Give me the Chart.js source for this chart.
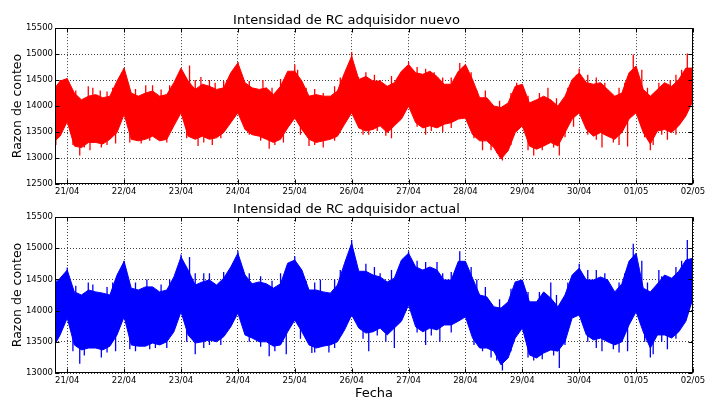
<!DOCTYPE html>
<html>
<head>
<meta charset="utf-8">
<script src="https://cdn.jsdelivr.net/npm/chart.js@4.4.0/dist/chart.umd.min.js"></script>
<style>
  html, body { margin: 0; padding: 0; background: #fff; overflow: hidden; }
  .panel { position: absolute; left: 0; width: 706px; }
  #panelTop { top: 0; height: 198px; }
  #panelBottom { top: 198px; height: 203px; }
</style>
</head>
<body>
<div class="panel" id="panelTop"><canvas id="nuevo"></canvas></div>
<div class="panel" id="panelBottom"><canvas id="actual"></canvas></div>
<script>
// day ticks (x value = days since 21/04 00:00)
const dayLabels = ['21/04', '22/04', '23/04', '24/04', '25/04', '26/04',
                   '27/04', '28/04', '29/04', '30/04', '01/05', '02/05'];

// count-rate envelope, one sample every 3 h starting 20/04 18:00
const sampleStartHour = -6;
const sampleStepHours = 3;

const nuevoHigh = [
  14300, 14480, 14530,
  14250, 14120, 14190, 14220, 14160, 14190, 14480, 14730,
  14250, 14190, 14250, 14290, 14190, 14220, 14450, 14730,
  14480, 14320, 14420, 14380, 14320, 14350, 14640, 14830,
  14450, 14350, 14320, 14350, 14220, 14380, 14670, 14670,
  14480, 14190, 14220, 14190, 14190, 14290, 14640, 14960,
  14510, 14570, 14480, 14480, 14380, 14450, 14670, 14800,
  14640, 14610, 14670, 14570, 14420, 14420, 14670, 14800,
  14510, 14160, 14160, 14000, 13970, 14060, 14380, 14420,
  14060, 14120, 14190, 14120, 14000, 14190, 14510, 14640,
  14450, 14420, 14450, 14320, 14190, 14250, 14640, 14770,
  14320, 14190, 14320, 14450, 14380, 14510, 14730, 14730
];
const nuevoLow = [
  13300, 13420, 13700,
  13230, 13200, 13300, 13300, 13270, 13360, 13490, 13840,
  13360, 13330, 13360, 13420, 13330, 13360, 13620, 13870,
  13420, 13360, 13420, 13360, 13390, 13490, 13680, 13870,
  13550, 13450, 13420, 13360, 13300, 13360, 13580, 13770,
  13550, 13360, 13300, 13330, 13360, 13420, 13650, 13870,
  13580, 13520, 13550, 13620, 13490, 13620, 13750, 14000,
  13680, 13580, 13620, 13580, 13650, 13680, 13750, 13770,
  13450, 13330, 13330, 13200, 12980, 13140, 13490, 13620,
  13230, 13170, 13230, 13300, 13230, 13490, 13750, 13870,
  13550, 13420, 13490, 13420, 13360, 13490, 13750, 13870,
  13490, 13270, 13520, 13550, 13490, 13620, 13810, 14100
];
// short bursts outside the envelope: time in days, extreme value
const nuevoSpikeDays = [
  -0.12, 0.0, 0.37, 0.58, 1.0, 1.38, 1.5, 2.15, 2.35, 2.6, 3.0, 3.44, 4.0, 4.05,
  4.5, 4.9, 5.0, 5.12, 5.5, 6.0, 6.45, 6.9, 7.2, 7.9, 8.45, 8.95, 9.0, 9.3, 9.95,
  10.1, 10.6, 10.9,
  0.15, 0.45, 0.7, 0.8, 1.2, 1.65, 1.8, 2.25, 2.5, 2.75, 3.2, 3.6, 3.75,
  4.2, 4.35, 4.7, 4.8, 5.25, 5.4, 5.7, 6.15, 6.3, 6.6, 6.75, 7.1, 7.35, 7.6, 7.8,
  8.1, 8.3, 8.6, 8.8, 9.15, 9.45, 9.7, 9.8, 10.2, 10.4, 10.7, 10.8,
  -0.2, 0.22, 0.4, 0.6, 0.85, 1.3, 1.6, 2.3, 2.55, 3.55, 3.8, 4.25, 4.5, 5.3, 5.7,
  6.3, 6.6, 7.3, 7.65, 8.2, 8.65, 8.9, 9.4, 9.85, 10.25, 10.55,
  0.1, 0.3, 0.7, 1.1, 1.45, 1.75, 2.1, 2.4, 2.7, 3.2, 3.4, 3.65, 4.1, 4.35, 4.7,
  5.2, 5.45, 5.6, 6.15, 6.4, 6.75, 7.15, 7.45, 7.55, 7.8, 8.1, 8.35, 8.55, 8.75,
  9.15, 9.3, 9.6, 9.7, 10.15, 10.3, 10.45, 10.7
];
const nuevoSpikeValues = [
  14500, 14530, 14380, 14300, 14730, 14400, 14400, 14780, 14560, 14450, 14850, 14500, 14800, 14700,
  14250, 14650, 15040, 14560, 14500, 14850, 14650, 14830, 14300, 14450, 14350, 14600, 14720, 14550, 14990,
  14700, 14500, 15010,
  14300, 14350, 14280, 14350, 14330, 14320, 14400, 14500, 14500, 14480, 14480, 14350, 14520,
  14350, 14330, 14380, 14550, 14650, 14600, 14580, 14750, 14720, 14550, 14550, 14650, 14300, 14100, 14250,
  14200, 14250, 14150, 14350, 14600, 14450, 14350, 14450, 14350, 14450, 14600, 14700,
  13250, 13050, 13150, 13200, 13280, 13280, 13350, 13230, 13250, 13180, 13300, 13230, 13200, 13450, 13380,
  13450, 13500, 13150, 12950, 13050, 13050, 13600, 13200, 13220, 13150, 13350,
  13250, 13200, 13250, 13300, 13330, 13300, 13380, 13300, 13380, 13450, 13330, 13250, 13450, 13250, 13330,
  13450, 13520, 13430, 13600, 13520, 13580, 13380, 13150, 13100, 13250, 13150, 13150, 13200, 13400,
  13450, 13350, 13300, 13250, 13400, 13250, 13450, 13450
];

const actualHigh = [
  14400, 14520, 14650,
  14300, 14250, 14330, 14300, 14280, 14250, 14570, 14790,
  14360, 14330, 14380, 14380, 14300, 14330, 14540, 14860,
  14650, 14410, 14460, 14490, 14410, 14520, 14700, 14920,
  14570, 14430, 14460, 14430, 14360, 14430, 14760, 14810,
  14650, 14330, 14330, 14300, 14280, 14410, 14760, 15080,
  14630, 14630, 14570, 14540, 14460, 14520, 14810, 14920,
  14700, 14650, 14700, 14650, 14490, 14490, 14790, 14790,
  14520, 14250, 14220, 14060, 14040, 14140, 14460, 14490,
  14140, 14140, 14300, 14200, 14060, 14250, 14570, 14680,
  14490, 14490, 14540, 14490, 14300, 14430, 14790, 14920,
  14360, 14300, 14430, 14570, 14520, 14630, 14810, 14840
];
const actualLow = [
  13400, 13610, 13880,
  13450, 13370, 13400, 13400, 13370, 13430, 13610, 13900,
  13450, 13430, 13430, 13480, 13450, 13500, 13660, 13980,
  13610, 13480, 13500, 13530, 13500, 13580, 13740, 13960,
  13610, 13560, 13500, 13500, 13430, 13450, 13660, 13850,
  13660, 13450, 13400, 13430, 13450, 13500, 13690, 13930,
  13720, 13640, 13660, 13720, 13610, 13720, 13830, 14090,
  13740, 13660, 13720, 13690, 13770, 13770, 13830, 13900,
  13560, 13400, 13400, 13350, 13130, 13240, 13560, 13720,
  13290, 13240, 13320, 13370, 13350, 13500, 13880, 13930,
  13610, 13530, 13560, 13500, 13450, 13500, 13770, 13980,
  13660, 13400, 13610, 13610, 13560, 13660, 13830, 14200
];
const actualSpikeDays = [
  -0.2, 0.0, 0.37, 1.0, 1.4, 2.0, 2.15, 2.4, 3.0, 3.4, 4.0, 4.45, 4.9, 5.0, 5.5,
  6.0, 6.5, 6.9, 7.2, 7.95, 8.5, 9.0, 9.3, 9.95, 10.1, 10.4, 10.9,
  0.15, 0.45, 0.7, 0.8, 1.2, 1.65, 1.8, 2.25, 2.5, 2.75, 3.2, 3.6, 3.75,
  4.2, 4.35, 4.7, 4.8, 5.25, 5.4, 5.7, 6.15, 6.3, 6.6, 6.75, 7.1, 7.35, 7.6, 7.8,
  8.1, 8.3, 8.6, 8.8, 9.15, 9.45, 9.7, 9.8, 10.2, 10.45, 10.7, 10.8,
  -0.22, 0.22, 0.6, 0.85, 1.2, 1.55, 2.25, 2.5, 3.55, 3.85, 4.3, 4.6, 5.3, 5.75,
  6.3, 6.55, 7.3, 7.65, 8.2, 8.65, 9.4, 9.85, 10.25, 10.55,
  0.1, 0.3, 0.7, 1.1, 1.45, 1.75, 2.1, 2.4, 2.7, 3.2, 3.4, 3.65, 4.1, 4.35, 4.7,
  5.2, 5.45, 5.6, 6.15, 6.4, 6.75, 7.15, 7.45, 7.55, 7.8, 8.1, 8.35, 8.55, 8.75,
  9.15, 9.3, 9.6, 9.7, 10.15, 10.3, 10.45, 10.7
];
const actualSpikeValues = [
  14500, 14690, 14450, 14800, 14500, 14900, 14860, 14600, 14960, 14550, 14870, 14500, 14800, 15130, 14600,
  14950, 14780, 14950, 14500, 14480, 14450, 14750, 14650, 15070, 14800, 14650, 15130,
  14400, 14420, 14380, 14450, 14450, 14420, 14500, 14600, 14600, 14620, 14600, 14480, 14600,
  14480, 14450, 14500, 14650, 14750, 14700, 14650, 14800, 14780, 14600, 14620, 14700, 14380, 14180, 14350,
  14300, 14300, 14250, 14450, 14650, 14600, 14450, 14600, 14450, 14550, 14700, 14800,
  13380, 13150, 13250, 13350, 13350, 13400, 13300, 13450, 13270, 13300, 13320, 13330, 13350, 13400,
  13450, 13500, 13350, 13040, 13200, 13080, 13350, 13350, 13250, 13380,
  13350, 13280, 13330, 13380, 13380, 13400, 13500, 13400, 13450, 13500, 13420, 13350, 13550, 13330, 13400,
  13550, 13600, 13500, 13650, 13600, 13650, 13450, 13250, 13200, 13350, 13250, 13220, 13280, 13450,
  13500, 13400, 13380, 13330, 13500, 13300, 13500, 13550
];

const FONT = 'DejaVu Sans';

function sampleDay(i) {
  return (sampleStartHour + i * sampleStepHours) / 24;
}

function toPoints(values) {
  return values.map((v, i) => ({ x: sampleDay(i), y: v }));
}

// vertical strokes from the middle of the band out to each spike value
function spikePoints(days, values, high, low) {
  const pts = [];
  days.forEach((d, k) => {
    const i = Math.round((d * 24 - sampleStartHour) / sampleStepHours);
    const mid = (high[i] + low[i]) / 2;
    pts.push({ x: d, y: mid }, { x: d, y: values[k] }, { x: d, y: null });
  });
  return pts;
}

// spines on all four sides plus inward tick marks, like the classic style
const framePlugin = {
  id: 'frame',
  afterDraw(chart) {
    const { ctx, chartArea: a, scales: { x, y } } = chart;
    const L = Math.round(a.left) + 0.5, R = Math.round(a.right) - 0.5;
    const T = Math.round(a.top) + 0.5, B = Math.round(a.bottom) - 0.5;
    ctx.save();
    ctx.strokeStyle = '#000';
    ctx.lineWidth = 1;
    ctx.beginPath();
    x.ticks.forEach(t => {
      const px = Math.round(x.getPixelForValue(t.value)) + 0.5;
      ctx.moveTo(px, B); ctx.lineTo(px, B - 4);
      ctx.moveTo(px, T); ctx.lineTo(px, T + 4);
    });
    y.ticks.forEach(t => {
      const py = Math.round(y.getPixelForValue(t.value)) + 0.5;
      ctx.moveTo(L, py); ctx.lineTo(L + 4, py);
      ctx.moveTo(R, py); ctx.lineTo(R - 4, py);
    });
    ctx.stroke();
    ctx.strokeRect(L, T, R - L, B - T);
    ctx.restore();
  }
};

function makePanel(id, cfg) {
  const gridStyle = { color: 'rgba(0,0,0,0.75)', lineWidth: 1, drawTicks: false };
  const border = { display: false, dash: [1, 2] };
  return new Chart(document.getElementById(id), {
    type: 'line',
    data: {
      datasets: [
        { data: toPoints(cfg.high), borderColor: cfg.color, backgroundColor: cfg.color,
          borderWidth: 1, pointRadius: 0, tension: 0, fill: '+1' },
        { data: toPoints(cfg.low), borderColor: cfg.color, backgroundColor: cfg.color,
          borderWidth: 1, pointRadius: 0, tension: 0, fill: false },
        { data: spikePoints(cfg.spikeDays, cfg.spikeValues, cfg.high, cfg.low),
          borderColor: cfg.color, borderWidth: 1.3, pointRadius: 0, tension: 0,
          fill: false, spanGaps: false }
      ]
    },
    options: {
      responsive: true,
      maintainAspectRatio: false,
      animation: false,
      events: [],
      layout: { padding: { left: 0, right: 13, top: 0, bottom: 0 } },
      plugins: {
        legend: { display: false },
        tooltip: { enabled: false },
        title: {
          display: true,
          text: cfg.title,
          color: '#000',
          font: { family: FONT, size: 13, weight: 'normal' },
          padding: { top: cfg.titleTop, bottom: cfg.titleBottom }
        }
      },
      scales: {
        x: {
          type: 'linear',
          min: -0.215,
          max: 11,
          offset: false,
          z: 1,
          border,
          grid: gridStyle,
          afterBuildTicks: s => { s.ticks = dayLabels.map((_, i) => ({ value: i })); },
          afterFit: s => { s.height = cfg.xHeight; s.paddingLeft = 0; s.paddingRight = 0; },
          ticks: {
            color: '#000',
            padding: 3,
            maxRotation: 0,
            autoSkip: false,
            font: { family: FONT, size: 8.5 },
            callback: v => dayLabels[v]
          },
          title: {
            display: cfg.xTitle !== '',
            text: cfg.xTitle,
            color: '#000',
            font: { family: FONT, size: 13 },
            padding: { top: 0, bottom: 0 }
          }
        },
        y: {
          min: cfg.yMin,
          max: 15500,
          z: 1,
          border,
          grid: gridStyle,
          afterFit: s => { s.width = 55; s.paddingTop = 0; s.paddingBottom = 0; },
          ticks: {
            stepSize: 500,
            color: '#000',
            padding: 2,
            font: { family: FONT, size: 8.5 },
            callback: v => String(v)
          },
          title: {
            display: true,
            text: 'Razon de conteo',
            color: '#000',
            font: { family: FONT, size: 12.5 },
            padding: { top: 10, bottom: 0 }
          }
        }
      }
    },
    plugins: [framePlugin]
  });
}

makePanel('nuevo', {
  title: 'Intensidad de RC adquisidor nuevo',
  color: '#ff0000',
  high: nuevoHigh,
  low: nuevoLow,
  spikeDays: nuevoSpikeDays,
  spikeValues: nuevoSpikeValues,
  yMin: 12500,
  titleTop: 12.5,
  titleBottom: 0,
  xHeight: 14,
  xTitle: ''
});

makePanel('actual', {
  title: 'Intensidad de RC adquisidor actual',
  color: '#0000ff',
  high: actualHigh,
  low: actualLow,
  spikeDays: actualSpikeDays,
  spikeValues: actualSpikeValues,
  yMin: 13000,
  titleTop: 3.4,
  titleBottom: 0,
  xHeight: 28,
  xTitle: 'Fecha'
});
</script>
</body>
</html>
